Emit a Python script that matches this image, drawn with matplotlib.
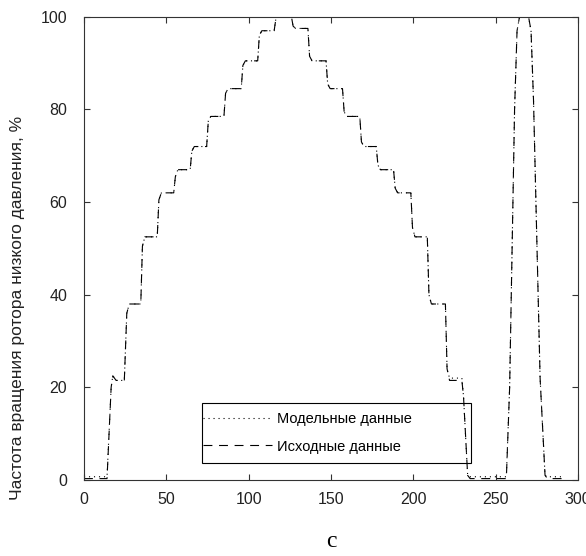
import matplotlib
matplotlib.use("Agg")
import matplotlib.pyplot as plt
from matplotlib.patches import Rectangle

plt.rcParams["font.family"] = ["Liberation Sans", "DejaVu Sans"]

# ---- time, s (shared by both series) ----
time = [0, 14,
        16.5, 17.5, 19.5, 24.5,
        26, 27.5, 34.5,
        35.5, 37, 44.5,
        45.5, 47, 54.5,
        55.5, 57, 64.5,
        65.5, 67, 74.5,
        75.5, 77, 85,
        86, 87.5, 95.5,
        96.5, 98, 105.5,
        106.5, 108, 115.5,
        116.5, 118, 126,
        127, 128.5, 136,
        137, 138.5, 147,
        148, 149.5, 157,
        158, 159.5, 167.5,
        168.5, 170, 177.5,
        178.5, 180, 188,
        189, 190.5, 198.5,
        199.5, 201, 208.5,
        209.5, 211, 219.5,
        220.5, 222, 229.5,
        230.5, 233, 234.5, 256.5,
        258.5, 261.5, 263, 264.5, 270,
        271.5, 273, 277, 280, 281.5, 292]

# ---- source data (dashed) ----
source = [0.3, 0.3,
          20, 22.5, 21.5, 21.5,
          36, 38, 38,
          50.5, 52.5, 52.5,
          60.5, 62, 62,
          65.5, 67, 67,
          71, 72, 72,
          77.5, 78.5, 78.5,
          83.5, 84.5, 84.5,
          89.5, 90.5, 90.5,
          96, 97, 97,
          99.5, 100, 100,
          98, 97.5, 97.5,
          91.5, 90.5, 90.5,
          85.5, 84.5, 84.5,
          79.5, 78.5, 78.5,
          73, 72, 72,
          68, 67, 67,
          63, 62, 62,
          54.5, 52.5, 52.5,
          40, 38, 38,
          24, 21.5, 21.5,
          18, 1, 0.3, 0.3,
          20, 80, 97, 100, 100,
          97, 82, 22, 1, 0.3, 0.3]

# ---- model data (dotted) ----
model = [0.7, 0.7,
         20, 22.5, 21.5, 21.5,
         36, 38, 38,
         50.5, 52.5, 52.5,
         60.5, 62, 62,
         65.5, 67, 67,
         71, 72, 72,
         77.5, 78.5, 78.5,
         83.5, 84.5, 84.5,
         89.5, 90.5, 90.5,
         96, 97, 97,
         99.5, 100, 100,
         98, 97.5, 97.5,
         91.5, 90.5, 90.5,
         85.5, 84.5, 84.5,
         79.5, 78.5, 78.5,
         73, 72, 72,
         68, 67, 67,
         63, 62, 62,
         54.5, 52.5, 52.5,
         40, 38, 38,
         24, 22, 22,
         18, 1, 0.7, 0.7,
         20, 80, 97, 100, 100,
         97, 82, 22, 1, 0.7, 0.7]

x_ticks = [0, 50, 100, 150, 200, 250, 300]
y_ticks = [0, 20, 40, 60, 80, 100]

fig = plt.figure(figsize=(5.86, 5.56), dpi=100)
ax = fig.add_axes([0.1433, 0.1367, 0.843, 0.833])

ax.plot(time, model, color="black", lw=0.8, linestyle=(0, (1, 3.5)),
        label="Модельные данные")
ax.plot(time, source, color="black", lw=0.8, linestyle=(0, (8, 6)),
        label="Исходные данные")

ax.set_xlim(0, 300)
ax.set_ylim(0, 100)
ax.set_xticks(x_ticks)
ax.set_yticks(y_ticks)
ax.tick_params(direction="in", length=4, width=0.8, top=True, right=True,
               labelsize=11.5, colors="#333333", labelcolor="#222222")
ax.tick_params(axis="y", pad=12)
ax.tick_params(axis="x", pad=9)
for s in ax.spines.values():
    s.set_color("#333333")
    s.set_linewidth(0.8)

ax.set_ylabel("Частота вращения ротора низкого давления, %", fontsize=12.5,
              color="#222222")
ax.yaxis.set_label_coords(-0.119, 0.371)
ax.set_xlabel("с", fontsize=17, family="Liberation Serif", labelpad=17)

# legend: own frame, transparent so the curve shows through
ax.add_patch(Rectangle((0.239, 0.037), 0.544, 0.129, transform=ax.transAxes,
                       fill=False, edgecolor="black", lw=0.8, zorder=5))
leg = ax.legend(loc="center left", bbox_to_anchor=(0.241, 0.1015),
                fontsize=10.5, handlelength=4.7, handletextpad=0.35,
                frameon=False, borderpad=0, borderaxespad=0,
                labelspacing=0.9)

fig.savefig("out.png", dpi=100)
